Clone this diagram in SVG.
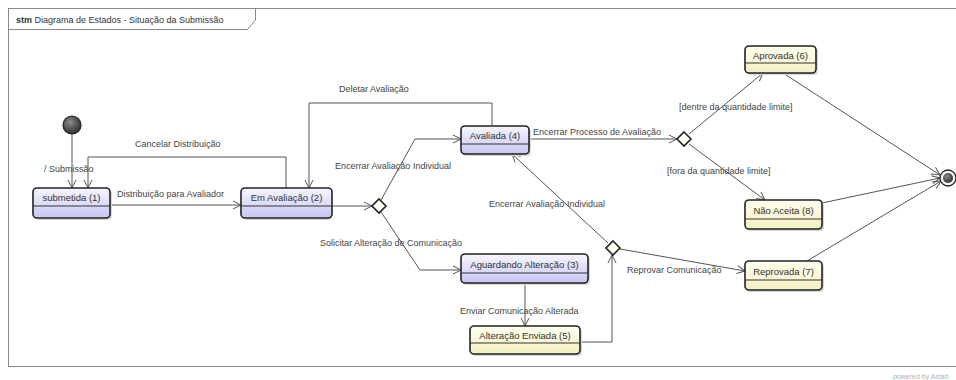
<svg xmlns="http://www.w3.org/2000/svg" width="956" height="380" viewBox="0 0 956 380">
<defs>
<linearGradient id="gP" x1="0" y1="0" x2="0" y2="1"><stop offset="0" stop-color="#f6f6ff"/><stop offset="1" stop-color="#c6c6f2"/></linearGradient>
<linearGradient id="gY" x1="0" y1="0" x2="0" y2="1"><stop offset="0" stop-color="#ffffef"/><stop offset="1" stop-color="#f3efc2"/></linearGradient>
<radialGradient id="gB" cx="0.4" cy="0.35" r="0.7"><stop offset="0" stop-color="#8a8a8a"/><stop offset="1" stop-color="#2a2a2a"/></radialGradient>
<marker id="ar" markerWidth="10" markerHeight="10" refX="9" refY="5" orient="auto" markerUnits="userSpaceOnUse"><path d="M1,1 L9,5 L1,9" fill="none" stroke="#555" stroke-width="1"/></marker>
</defs>
<style>
.frame{fill:none;stroke:#8a8a8a;stroke-width:1}
.st{stroke:#222;stroke-width:1.6}
.sh{fill:#d8d8d8}
.div{stroke:#333;stroke-width:1}
.nt{font-family:"Liberation Sans",Arial,sans-serif;font-size:9.5px;fill:#333;text-anchor:middle}
.lb{font-family:"Liberation Sans",Arial,sans-serif;font-size:9px;fill:#444}
.ln{fill:none;stroke:#555;stroke-width:1;marker-end:url(#ar)}
.dm{fill:#fffff4;stroke:#222;stroke-width:1.6}
</style>
<rect width="956" height="380" fill="#ffffff"/>
<g id="frame">
<rect class="frame" x="8.5" y="8.5" width="960" height="358"/>
<path class="frame" d="M8.5,29.5 H247.5 L255.5,20 V8.5"/>
<text x="16" y="23" font-family="Liberation Sans,Arial,sans-serif" font-size="9px" fill="#333"><tspan font-weight="bold">stm</tspan> Diagrama de Estados - Situação da Submissão</text>
</g>
<g id="connectors">
<path class="ln" d="M72,134 V188"/>
<text class="lb" x="44" y="172">/ Submissão</text>
<path class="ln" d="M286,188 V157 H88 V188"/>
<text class="lb" x="135" y="147">Cancelar Distribuição</text>
<path class="ln" d="M110,205 H241"/>
<text class="lb" x="117" y="197">Distribuição para Avaliador</text>
<path class="ln" d="M492,126 V103 H309 V188"/>
<text class="lb" x="339" y="92">Deletar Avaliação</text>
<path class="ln" d="M332,206 H372"/>
<path class="ln" d="M381,200 L415,139 H461"/>
<text class="lb" x="335" y="169">Encerrar Avaliação Individual</text>
<path class="ln" d="M381,212 L420,270 H461"/>
<text class="lb" x="320" y="246">Solicitar Alteração de Comunicação</text>
<path class="ln" d="M525,283 V326"/>
<text class="lb" x="460" y="314">Enviar Comunicação Alterada</text>
<path class="ln" d="M580,342 H612 V255"/>
<path class="ln" d="M608,243 L512,154"/>
<text class="lb" x="489" y="207">Encerrar Avaliação Individual</text>
<path class="ln" d="M620,249 L745,271"/>
<text class="lb" x="627" y="273">Reprovar Comunicação</text>
<path class="ln" d="M529,139 H677"/>
<text class="lb" x="533" y="135">Encerrar Processo de Avaliação</text>
<path class="ln" d="M689,134 L763,73"/>
<text class="lb" x="679" y="110">[dentre da quantidade limite]</text>
<path class="ln" d="M689,144 L765,200"/>
<text class="lb" x="667" y="174">[fora da quantidade limite]</text>
<path class="ln" d="M783,73 L940,175"/>
<path class="ln" d="M822,203 L940,178"/>
<path class="ln" d="M807,261 L941,181"/>
</g>
<g id="initial">
<circle cx="72" cy="125" r="9" fill="url(#gB)" stroke="#222" stroke-width="1.2"/>
</g>
<g id="final">
<circle cx="948" cy="178" r="8" fill="#f4f4f4" stroke="#222" stroke-width="1.3"/>
<circle cx="948" cy="178" r="5" fill="url(#gB)"/>
</g>
<g id="submetida">
<rect class="sh" x="35" y="190" width="77" height="30" rx="4"/>
<rect class="st" x="33" y="188" width="77" height="30" rx="4" fill="url(#gP)"/>
<line class="div" x1="33" y1="206" x2="110" y2="206"/>
<text class="nt" x="71.5" y="201">submetida (1)</text>
</g>
<g id="em-avaliacao">
<rect class="sh" x="243" y="190" width="89" height="30" rx="4"/>
<rect class="st" x="241" y="188" width="91" height="30" rx="4" fill="url(#gP)"/>
<line class="div" x1="241" y1="206" x2="332" y2="206"/>
<text class="nt" x="286.5" y="201">Em Avaliação (2)</text>
</g>
<g id="decisao1">
<path class="dm" d="M379,199 L386,206 L379,213 L372,206 Z"/>
</g>
<g id="avaliada">
<rect class="sh" x="463" y="128" width="68" height="28" rx="4"/>
<rect class="st" x="461" y="126" width="68" height="28" rx="4" fill="url(#gP)"/>
<line class="div" x1="461" y1="144" x2="529" y2="144"/>
<text class="nt" x="495" y="139">Avaliada (4)</text>
</g>
<g id="aguardando">
<rect class="sh" x="463" y="256" width="127" height="29" rx="4"/>
<rect class="st" x="461" y="254" width="127" height="29" rx="4" fill="url(#gP)"/>
<line class="div" x1="461" y1="273" x2="588" y2="273"/>
<text class="nt" x="524.5" y="268">Aguardando Alteração (3)</text>
</g>
<g id="enviada">
<rect class="sh" x="472" y="328" width="110" height="28" rx="4"/>
<rect class="st" x="470" y="326" width="110" height="28" rx="4" fill="url(#gY)"/>
<line class="div" x1="470" y1="343" x2="580" y2="343"/>
<text class="nt" x="525" y="339">Alteração Enviada (5)</text>
</g>
<g id="decisao2">
<path class="dm" d="M613,241 L620,248 L613,255 L606,248 Z"/>
</g>
<g id="decisao3">
<path class="dm" d="M684,132 L691,139 L684,146 L677,139 Z"/>
</g>
<g id="aprovada">
<rect class="sh" x="747" y="48" width="71" height="27" rx="4"/>
<rect class="st" x="745" y="46" width="71" height="27" rx="4" fill="url(#gY)"/>
<line class="div" x1="745" y1="63" x2="816" y2="63"/>
<text class="nt" x="780.5" y="59">Aprovada (6)</text>
</g>
<g id="nao-aceita">
<rect class="sh" x="747" y="202" width="77" height="29" rx="4"/>
<rect class="st" x="745" y="200" width="77" height="29" rx="4" fill="url(#gY)"/>
<line class="div" x1="745" y1="219" x2="822" y2="219"/>
<text class="nt" x="783.5" y="214">Não Aceita (8)</text>
</g>
<g id="reprovada">
<rect class="sh" x="747" y="263" width="77" height="29" rx="4"/>
<rect class="st" x="745" y="261" width="77" height="29" rx="4" fill="url(#gY)"/>
<line class="div" x1="745" y1="280" x2="822" y2="280"/>
<text class="nt" x="783.5" y="275">Reprovada (7)</text>
</g>
<text x="893" y="379" font-family="Liberation Sans,Arial,sans-serif" font-size="7px" fill="#b0b0b0">powered by Astah</text>
</svg>
